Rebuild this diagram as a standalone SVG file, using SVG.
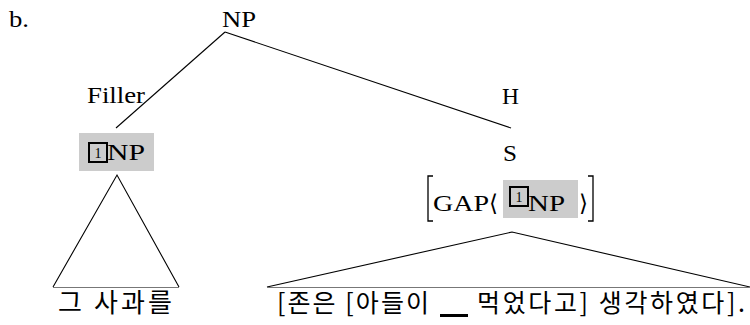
<svg xmlns="http://www.w3.org/2000/svg" width="750" height="325" viewBox="0 0 750 325">
<style>
.t{font-family:"Liberation Serif","DejaVu Serif",serif;font-size:23px;fill:#000}
.s{font-family:"Liberation Serif","DejaVu Serif",serif;font-size:14px;fill:#000}
.k{font-family:"Noto Sans CJK KR","Noto Sans",sans-serif;font-size:25px;fill:#000}
.e{stroke:#000;stroke-width:1.1;fill:none}
.b{stroke:#777;stroke-width:1.2;fill:none}
.hl{fill:#cccccc}
.tag{fill:none;stroke:#000;stroke-width:2}
.br{fill:none;stroke:#000;stroke-width:1.3}
</style>
<rect width="750" height="325" fill="#fff"/>
<text class="t" x="9" y="27" style="font-size:24px" textLength="20" lengthAdjust="spacingAndGlyphs">b.</text>
<g id="connectors">
<line class="e" x1="225" y1="32" x2="116" y2="128"/>
<line class="e" x1="225" y1="32" x2="511" y2="128"/>
<polyline class="e" points="53,287 117,175 179,287"/>
<line class="b" x1="53" y1="287.5" x2="179" y2="287.5"/>
<polyline class="e" points="267,287 512,232 750,287"/>
<line class="b" x1="267" y1="287.5" x2="750" y2="287.5"/>
</g>
<g id="np-root">
<text class="t" x="222" y="27" textLength="34" lengthAdjust="spacingAndGlyphs">NP</text>
</g>
<g id="filler-label">
<text class="t" x="87" y="103" textLength="58" lengthAdjust="spacingAndGlyphs">Filler</text>
</g>
<g id="filler-np">
<rect class="hl" x="79" y="133" width="75" height="38"/>
<rect class="tag" x="89" y="143" width="18" height="19"/>
<text class="s" x="98" y="158" text-anchor="middle">1</text>
<text class="t" x="107" y="160" textLength="38" lengthAdjust="spacingAndGlyphs">NP</text>
</g>
<g id="filler-words">
<text class="k" x="58" y="312" style="font-size:26px" textLength="114" lengthAdjust="spacing">그 사과를</text>
</g>
<g id="head-label">
<text class="t" x="502" y="104" textLength="17" lengthAdjust="spacingAndGlyphs">H</text>
</g>
<g id="s-node">
<text class="t" x="503" y="161" textLength="14" lengthAdjust="spacingAndGlyphs">S</text>
<polyline class="br" points="433,176 428,176 428,221 433,221"/>
<text class="t" x="433" y="211" textLength="56" lengthAdjust="spacingAndGlyphs">GAP</text>
<text class="t" x="489" y="211">⟨</text>
<rect class="hl" x="503" y="180" width="75" height="38"/>
<rect class="tag" x="510" y="187" width="18" height="19"/>
<text class="s" x="519" y="202" text-anchor="middle">1</text>
<text class="t" x="528" y="211" textLength="37" lengthAdjust="spacingAndGlyphs">NP</text>
<text class="t" x="579" y="211">⟩</text>
<polyline class="br" points="588,176 593,176 593,221 588,221"/>
</g>
<g id="s-words">
<text class="k" x="277" y="312" textLength="152" lengthAdjust="spacing">[존은 [아들이</text>
<rect x="440" y="314" width="28" height="3" fill="#000"/>
<text class="k" x="477" y="312" textLength="268" lengthAdjust="spacing">먹었다고] 생각하였다].</text>
</g>
</svg>
